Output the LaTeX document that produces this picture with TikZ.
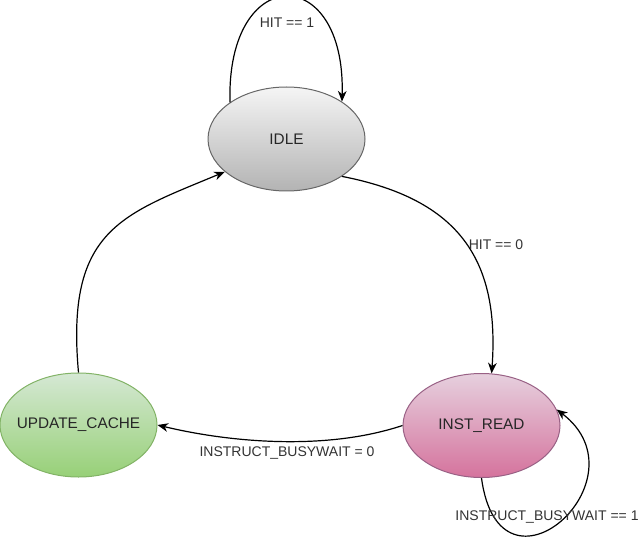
\documentclass[tikz,border=0pt]{standalone}
\usepackage{fontspec}
\setmainfont{Liberation Sans}
\usepackage{tikz}
\usetikzlibrary{shapes.geometric,arrows.meta}
\definecolor{idletop}{HTML}{F5F5F5}
\definecolor{idlebottom}{HTML}{B3B3B3}
\definecolor{idleline}{HTML}{666666}
\definecolor{readtop}{HTML}{E6D0DE}
\definecolor{readbottom}{HTML}{D5739D}
\definecolor{readline}{HTML}{996185}
\definecolor{updatetop}{HTML}{D5E8D4}
\definecolor{updatebottom}{HTML}{97D077}
\definecolor{updateline}{HTML}{82B366}
\tikzstyle{fsmstate}=[ellipse, draw, line width=0.75pt, minimum width=117.75pt, minimum height=78pt, inner ysep=0pt, inner xsep=-12pt, font=\fontsize{11.5}{14}\selectfont, text=black!85]
\tikzstyle{idlestate}=[fsmstate, draw=idleline, top color=idletop, bottom color=idlebottom]
\tikzstyle{readstate}=[fsmstate, draw=readline, top color=readtop, bottom color=readbottom]
\tikzstyle{updatestate}=[fsmstate, draw=updateline, top color=updatetop, bottom color=updatebottom]
\tikzstyle{fsmedge}=[line width=0.9pt, -{Stealth[length=8pt,width=6.5pt,inset=2.5pt]}]
\tikzstyle{fsmlabel}=[font=\fontsize{10.5}{12}\selectfont, text=black!80, inner sep=0pt]
\newcommand{\fsmstate}[4]{
	\node[#1] (#2) at (#3) {#4};}

\begin{document}
\begin{tikzpicture}[x=0.75pt,y=-0.75pt]
\useasboundingbox (0,0) rectangle (641,541);
\fsmstate{idlestate}{idle}{286.5,139}{IDLE}
\fsmstate{readstate}{instread}{481.5,425.5}{INST\_READ}
\fsmstate{updatestate}{updatecache}{78.5,425}{UPDATE\_CACHE}
\draw[fsmedge] (idle.147) .. controls +(-4,-140) and +(4,-140) .. (idle.34);
\draw[fsmedge] (idle.-34) .. controls +(118,23) and +(8,-113) .. (instread.79);
\draw[fsmedge] (instread.west) .. controls +(-75,25) and +(75,18) .. (updatecache.east);
\draw[fsmedge] (updatecache.north) .. controls +(-13,-143) and +(-103,43) .. (idle.208);
\draw[fsmedge] (instread.south) .. controls +(18,135) and +(92,70) .. (instread.12);
\node[fsmlabel] (hitone) at (287,23) {HIT == 1};
\node[fsmlabel] (hitzero) at (496,245) {HIT == 0};
\node[fsmlabel] (busyzero) at (287,453) {INSTRUCT\_BUSYWAIT = 0};
\node[fsmlabel] (busyone) at (547,517) {INSTRUCT\_BUSYWAIT == 1};
\end{tikzpicture}
\end{document}
